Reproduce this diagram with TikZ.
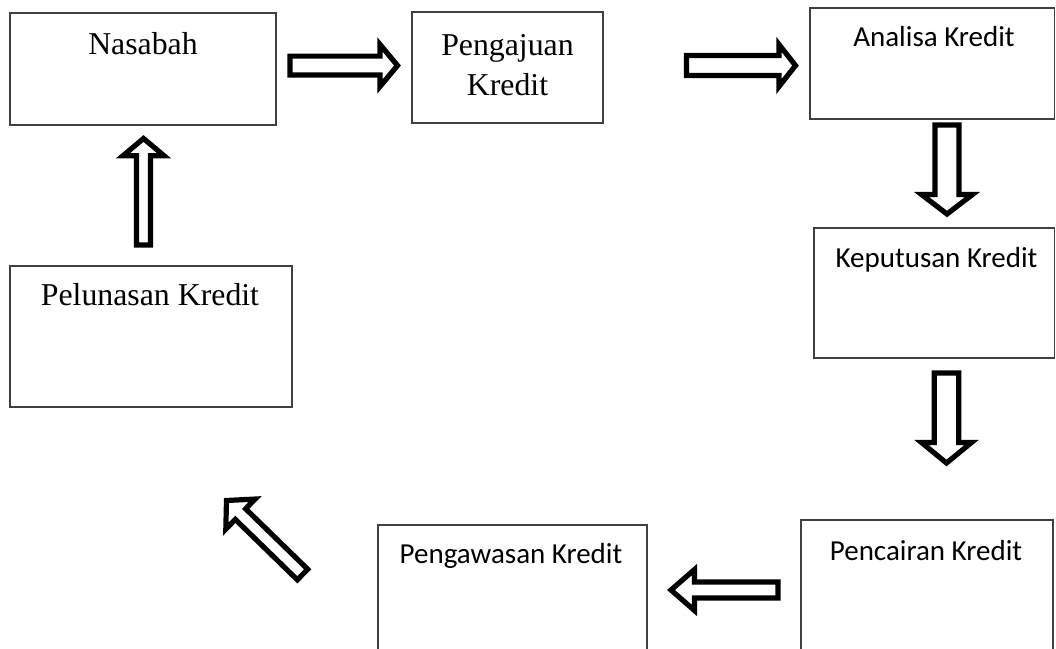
\documentclass[tikz,border=0pt]{standalone}
\usepackage{fontspec}
\setmainfont{Liberation Serif}
\newfontfamily\calib{Carlito}
\usetikzlibrary{calc}
\tikzset{
  box/.style={draw=black!75, line width=1.2pt, fill=none, inner sep=0pt},
  serift/.style={font=\fontsize{31.8}{36}\selectfont, inner sep=0pt, anchor=base},
  sanst/.style={font=\calib\fontsize{29}{34}\selectfont, inner sep=0pt, anchor=base},
  fat/.style={draw=black, line width=5.2pt, line join=miter, miter limit=10, fill=white}
}
% #1 tail, #2 tip, #3 head length, #4 shaft half width, #5 head half width
\newcommand\fatarrow[5]{%
  \coordinate (fa-h) at ($(#2)!#3!(#1)$);
  \draw[fat] ($(#1)!#4!90:(#2)$) -- ($(fa-h)!#4!-90:(#1)$) -- ($(fa-h)!#5!-90:(#1)$)
    -- (#2) -- ($(fa-h)!#5!90:(#1)$) -- ($(fa-h)!#4!90:(#1)$) -- ($(#1)!#4!-90:(#2)$) -- cycle;
}
\begin{document}
\begin{tikzpicture}[x=1pt, y=-1pt]
\useasboundingbox (0,0) rectangle (1056,648);
\clip (0,0) rectangle (1056,648);
\fill[white] (0,0) rectangle (1056,648);
% boxes
\draw[box] (10,13) rectangle (276,125) node[pos=0.5] (nas) {};
\draw[box] (412,12) rectangle (603,123) node[pos=0.5] (peng) {};
\draw[box] (810,8) rectangle (1054.5,119) node[pos=0.5] (anal) {};
\draw[box] (814,228) rectangle (1054.5,358) node[pos=0.5] (kep) {};
\draw[box] (801,520) rectangle (1053,670) node[pos=0.5] (penc) {};
\draw[box] (378,525) rectangle (647,670) node[pos=0.5] (pengaw) {};
\draw[box] (10,266) rectangle (292,407) node[pos=0.5] (pelun) {};
% texts
\node[serift] (tnas) at (143,54) {Nasabah};
\node[serift] (tpeng1) at (507.5,55) {Pengajuan};
\node[serift] (tpeng2) at (507.5,95) {Kredit};
\node[sanst] (tanal) at (934,46) {Analisa Kredit};
\node[sanst] (tkep) at (936.5,267) {Keputusan Kredit};
\node[sanst] (tpenc) at (926,560) {Pencairan Kredit};
\node[sanst] (tpengaw) at (511,563) {Pengawasan Kredit};
\node[serift] (tpelun) at (150,305) {Pelunasan Kredit};
% arrow ends
\coordinate (a1t) at (290,65.5);   \coordinate (a1h) at (397.5,65.5);
\coordinate (a2t) at (686.5,65.5); \coordinate (a2h) at (795.5,65.5);
\coordinate (a3t) at (947,125);    \coordinate (a3h) at (947,214);
\coordinate (a4t) at (946.5,373);  \coordinate (a4h) at (946.5,463);
\coordinate (a5t) at (778,590);    \coordinate (a5h) at (671,590);
\coordinate (a6t) at (302.5,574.5);\coordinate (a6h) at (226.5,500.5);
\coordinate (a7t) at (143.5,245);  \coordinate (a7h) at (143.5,138.5);
\fatarrow{a1t}{a1h}{17.5pt}{9.4pt}{21pt}
\fatarrow{a2t}{a2h}{16.5pt}{10pt}{21pt}
\fatarrow{a3t}{a3h}{19.5pt}{12pt}{25.5pt}
\fatarrow{a4t}{a4h}{20.5pt}{12.3pt}{25pt}
\fatarrow{a5t}{a5h}{23.5pt}{8pt}{20.5pt}
\fatarrow{a6t}{a6h}{19.5pt}{7.4pt}{21pt}
\fatarrow{a7t}{a7h}{17.2pt}{7pt}{20.5pt}
\end{tikzpicture}
\end{document}
